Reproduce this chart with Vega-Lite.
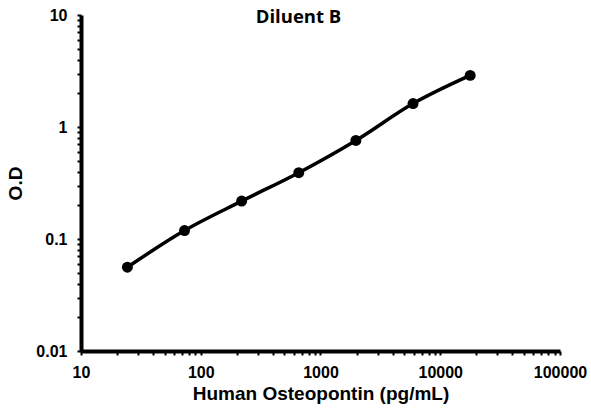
{
  "$schema": "https://vega.github.io/schema/vega-lite/v6.json",
  "width": 479,
  "height": 336,
  "autosize": {"type": "none"},
  "padding": {"left": 81, "top": 15, "right": 31, "bottom": 57},
  "background": "white",
  "title": {"text": "Diluent B", "font": "Open Sans", "fontSize": 18.5, "fontWeight": "bold", "color": "black", "anchor": "middle", "dx": -22, "dy": 19, "offset": 0},
  "config": {"view": {"stroke": null}},
  "data": {"values": [
    {"conc": 24.4, "od": 0.056},
    {"conc": 73.2, "od": 0.119},
    {"conc": 219.5, "od": 0.218},
    {"conc": 658.4, "od": 0.391},
    {"conc": 1975, "od": 0.758},
    {"conc": 5926, "od": 1.62},
    {"conc": 17778, "od": 2.89}
  ]},
  "encoding": {
    "x": {"field": "conc", "type": "quantitative",
      "scale": {"type": "log", "domain": [10, 100000], "nice": false},
      "axis": {"title": "Human Osteopontin (pg/mL)", "grid": false,
        "values": [10,20,30,40,50,60,70,80,90,100,200,300,400,500,600,700,800,900,1000,2000,3000,4000,5000,6000,7000,8000,9000,10000,20000,30000,40000,50000,60000,70000,80000,90000,100000],
        "labelExpr": "abs(log(datum.value)/log(10) - round(log(datum.value)/log(10))) < 0.001 ? format(datum.value, 'd') : ''",
        "domainColor": "black", "domainWidth": 4, "tickColor": "black", "tickWidth": 2, "tickSize": 4,
        "labelFont": "Liberation Sans", "labelFontWeight": "bold", "labelFontSize": 16, "labelColor": "black", "labelPadding": 9, "labelFlush": false, "labelOverlap": false,
        "titleFont": "Liberation Sans", "titleFontWeight": "bold", "titleFontSize": 19, "titleColor": "black", "titlePadding": 4}},
    "y": {"field": "od", "type": "quantitative",
      "scale": {"type": "log", "domain": [0.01, 10], "nice": false},
      "axis": {"title": "O.D", "grid": false,
        "values": [0.01,0.02,0.03,0.04,0.05,0.06,0.07,0.08,0.09,0.1,0.2,0.3,0.4,0.5,0.6,0.7,0.8,0.9,1,2,3,4,5,6,7,8,9,10],
        "labelExpr": "abs(log(datum.value)/log(10) - round(log(datum.value)/log(10))) < 0.001 ? format(datum.value, '') : ''",
        "domainColor": "black", "domainWidth": 4, "tickColor": "black", "tickWidth": 2, "tickSize": 4,
        "labelFont": "Liberation Sans", "labelFontWeight": "bold", "labelFontSize": 16, "labelColor": "black", "labelPadding": 10, "labelFlush": false, "labelOverlap": false,
        "titleFont": "Liberation Sans", "titleFontWeight": "bold", "titleFontSize": 19, "titleColor": "black", "titlePadding": 10}}
  },
  "layer": [
    {"mark": {"type": "line", "color": "black", "strokeWidth": 3.5, "interpolate": "monotone"}},
    {"mark": {"type": "point", "filled": true, "color": "black", "opacity": 1, "size": 120}}
  ]
}
